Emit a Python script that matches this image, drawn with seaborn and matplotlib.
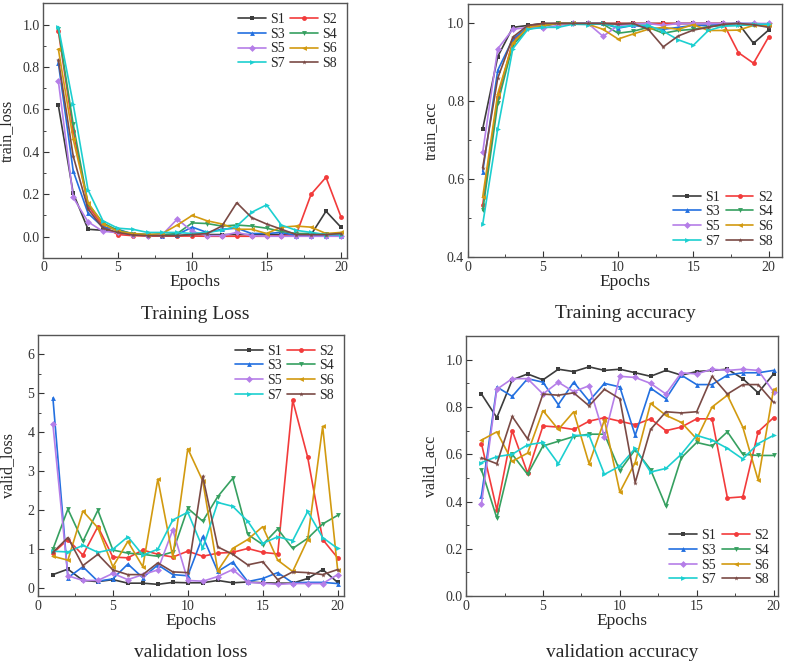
import pandas as pd
import numpy as np
import matplotlib
matplotlib.use('Agg')
import matplotlib.pyplot as plt
import seaborn as sns
from matplotlib.ticker import MultipleLocator, FormatStrFormatter

epochs = list(range(1, 21))
series = ['S1', 'S2', 'S3', 'S4', 'S5', 'S6', 'S7', 'S8']

# train loss per series
train_loss = {
    'S1': [0.62, 0.205, 0.035, 0.03, 0.02, 0.01, 0.005, 0.005, 0.005, 0.01, 0.01, 0.01, 0.01, 0.01, 0.01, 0.01, 0.01, 0.01, 0.12, 0.045],
    'S2': [0.97, 0.50, 0.145, 0.05, 0.01, 0.005, 0.003, 0.003, 0.003, 0.003, 0.002, 0.002, 0.002, 0.002, 0.002, 0.005, 0.01, 0.20, 0.28, 0.095],
    'S3': [0.82, 0.31, 0.11, 0.045, 0.035, 0.012, 0.01, 0.005, 0.01, 0.045, 0.02, 0.035, 0.04, 0.015, 0.015, 0.02, 0.005, 0.005, 0.005, 0.005],
    'S4': [0.98, 0.53, 0.155, 0.065, 0.03, 0.015, 0.01, 0.01, 0.015, 0.065, 0.062, 0.05, 0.055, 0.05, 0.04, 0.025, 0.015, 0.015, 0.012, 0.015],
    'S5': [0.735, 0.185, 0.07, 0.025, 0.02, 0.01, 0.005, 0.01, 0.083, 0.025, 0.005, 0.005, 0.02, 0.005, 0.002, 0.002, 0.002, 0.002, 0.002, 0.002],
    'S6': [0.885, 0.46, 0.16, 0.06, 0.025, 0.015, 0.01, 0.015, 0.055, 0.10, 0.075, 0.06, 0.035, 0.035, 0.015, 0.045, 0.05, 0.045, 0.015, 0.02],
    'S7': [0.99, 0.625, 0.22, 0.075, 0.04, 0.035, 0.02, 0.02, 0.02, 0.015, 0.02, 0.03, 0.05, 0.115, 0.15, 0.055, 0.03, 0.02, 0.01, 0.01],
    'S8': [0.835, 0.38, 0.13, 0.04, 0.02, 0.008, 0.005, 0.005, 0.005, 0.01, 0.015, 0.05, 0.16, 0.09, 0.06, 0.035, 0.01, 0.01, 0.01, 0.015],
}

train_acc = {
    'S1': [0.73, 0.915, 0.99, 0.995, 1.0, 1.0, 1.0, 1.0, 1.0, 1.0, 1.0, 1.0, 1.0, 1.0, 1.0, 1.0, 1.0, 1.0, 0.949, 0.983],
    'S2': [0.535, 0.81, 0.955, 0.99, 0.998, 1.0, 1.0, 1.0, 1.0, 1.0, 1.0, 1.0, 1.0, 1.0, 1.0, 1.0, 1.0, 0.925, 0.898, 0.965],
    'S3': [0.62, 0.88, 0.96, 0.99, 0.995, 1.0, 1.0, 1.0, 1.0, 0.988, 0.995, 0.99, 0.985, 0.99, 0.995, 0.995, 0.998, 1.0, 1.0, 0.998],
    'S4': [0.52, 0.795, 0.945, 0.985, 0.993, 1.0, 1.0, 1.0, 0.998, 0.975, 0.98, 0.99, 0.975, 0.982, 0.985, 0.992, 0.995, 0.995, 0.997, 0.993],
    'S5': [0.67, 0.935, 0.985, 0.99, 0.988, 0.995, 1.0, 1.0, 0.967, 0.995, 0.998, 1.0, 0.995, 1.0, 1.0, 1.0, 1.0, 1.0, 1.0, 1.0],
    'S6': [0.555, 0.82, 0.95, 0.99, 0.995, 1.0, 1.0, 0.998, 0.985, 0.96, 0.973, 0.985, 0.99, 0.985, 0.997, 0.982, 0.982, 0.983, 0.995, 0.995],
    'S7': [0.485, 0.73, 0.935, 0.985, 0.99, 0.99, 0.998, 0.997, 1.0, 0.99, 0.995, 0.995, 0.98, 0.958, 0.944, 0.982, 0.993, 0.995, 0.998, 0.998],
    'S8': [0.63, 0.86, 0.965, 0.995, 1.0, 1.0, 1.0, 1.0, 1.0, 0.998, 1.0, 0.985, 0.94, 0.968, 0.983, 0.99, 0.998, 1.0, 0.997, 0.99],
}

valid_loss = {
    'S1': [0.35, 0.49, 0.20, 0.17, 0.22, 0.13, 0.13, 0.10, 0.15, 0.14, 0.14, 0.20, 0.14, 0.16, 0.14, 0.13, 0.13, 0.25, 0.48, 0.15],
    'S2': [0.90, 1.25, 0.85, 1.58, 0.80, 0.78, 0.98, 0.87, 0.80, 0.95, 0.82, 0.90, 0.92, 1.02, 0.92, 0.88, 4.82, 3.36, 1.25, 0.78],
    'S3': [4.88, 0.27, 0.55, 0.18, 0.24, 0.62, 0.27, 0.60, 0.35, 0.32, 1.33, 0.43, 0.67, 0.17, 0.25, 0.40, 0.14, 0.15, 0.15, 0.12],
    'S4': [1.00, 2.03, 1.20, 2.00, 0.98, 0.90, 0.87, 0.82, 0.93, 2.05, 1.72, 2.35, 2.82, 1.38, 1.12, 1.52, 1.02, 1.28, 1.65, 1.87],
    'S5': [4.20, 0.32, 0.20, 0.20, 0.38, 0.22, 0.35, 0.47, 1.50, 0.20, 0.18, 0.30, 0.48, 0.15, 0.13, 0.10, 0.12, 0.12, 0.12, 0.35],
    'S6': [0.82, 0.72, 1.98, 1.55, 0.55, 1.20, 0.55, 2.80, 0.80, 3.58, 2.75, 0.45, 1.02, 1.25, 1.58, 0.72, 0.43, 1.25, 4.15, 0.47],
    'S7': [0.95, 0.93, 1.10, 0.92, 1.00, 1.32, 0.85, 1.00, 1.75, 1.95, 1.03, 2.20, 2.10, 1.72, 1.15, 1.32, 1.22, 1.97, 1.30, 1.02],
    'S8': [0.92, 1.30, 0.58, 0.87, 0.47, 0.35, 0.35, 0.65, 0.42, 0.40, 2.87, 1.06, 0.87, 0.60, 0.68, 0.22, 0.42, 0.40, 0.35, 0.48],
}

valid_acc = {
    'S1': [0.855, 0.755, 0.915, 0.94, 0.915, 0.96, 0.95, 0.97, 0.955, 0.96, 0.945, 0.93, 0.955, 0.935, 0.95, 0.955, 0.96, 0.92, 0.86, 0.94],
    'S2': [0.645, 0.365, 0.70, 0.52, 0.72, 0.715, 0.705, 0.74, 0.755, 0.74, 0.725, 0.75, 0.70, 0.715, 0.75, 0.75, 0.415, 0.42, 0.695, 0.755],
    'S3': [0.425, 0.885, 0.845, 0.92, 0.905, 0.81, 0.905, 0.825, 0.90, 0.885, 0.68, 0.88, 0.835, 0.935, 0.895, 0.895, 0.935, 0.945, 0.945, 0.955],
    'S4': [0.535, 0.33, 0.60, 0.515, 0.635, 0.655, 0.675, 0.685, 0.685, 0.53, 0.62, 0.535, 0.38, 0.585, 0.65, 0.635, 0.695, 0.60, 0.595, 0.595],
    'S5': [0.39, 0.875, 0.92, 0.92, 0.855, 0.905, 0.865, 0.89, 0.675, 0.93, 0.925, 0.90, 0.855, 0.945, 0.94, 0.96, 0.955, 0.96, 0.955, 0.865],
    'S6': [0.66, 0.695, 0.57, 0.605, 0.785, 0.705, 0.78, 0.56, 0.745, 0.44, 0.565, 0.815, 0.765, 0.735, 0.665, 0.80, 0.85, 0.715, 0.49, 0.875],
    'S7': [0.565, 0.59, 0.60, 0.64, 0.65, 0.56, 0.68, 0.68, 0.515, 0.55, 0.625, 0.525, 0.54, 0.60, 0.68, 0.66, 0.625, 0.58, 0.645, 0.68],
    'S8': [0.585, 0.56, 0.76, 0.665, 0.855, 0.85, 0.86, 0.805, 0.875, 0.835, 0.48, 0.705, 0.78, 0.775, 0.78, 0.93, 0.855, 0.895, 0.895, 0.82],
}

colors = ['#3c3c3c', '#f23b3b', '#2370e0', '#36a060', '#b57ee8', '#d29a10', '#1ccfd0', '#7a4a45']
markers = ['s', 'o', '^', 'v', 'D', '<', '>', '*']
palette = dict(zip(series, colors))
marker_map = dict(zip(series, markers))


def to_long(d):
    rows = []
    for s in series:
        for e, v in zip(epochs, d[s]):
            rows.append({'Epochs': e, 'value': v, 'Series': s})
    return pd.DataFrame(rows)


sns.set_style('ticks')
plt.rcParams['font.family'] = ['Liberation Serif', 'DejaVu Serif']
plt.rcParams['xtick.direction'] = 'in'
plt.rcParams['ytick.direction'] = 'in'

fig = plt.figure(figsize=(7.9, 6.63), dpi=100)
axes_pos = [
    [0.055, 0.611, 0.384, 0.384],
    [0.592, 0.612, 0.398, 0.382],
    [0.048, 0.101, 0.387, 0.394],
    [0.590, 0.101, 0.395, 0.392],
]
# y-label centre in axes coords
label_x = [-0.095, -0.09, -0.07, -0.09]

panels = [
    (train_loss, 'train_loss', (-0.1, 1.1), 0.2, 'upper right', 'Training Loss', (0, 20.4)),
    (train_acc, 'train_acc', (0.4, 1.05), 0.2, 'lower right', 'Training accuracy', (0, 20.9)),
    (valid_loss, 'valid_loss', (-0.2, 6.5), 1, 'upper right', 'validation loss', (0, 20.4)),
    (valid_acc, 'valid_acc', (0, 1.1), 0.2, 'lower right', 'validation accuracy', (0, 20.3)),
]

# legend order so matplotlib's column fill reads S1 S2 / S3 S4 / ...
leg_order = ['S1', 'S3', 'S5', 'S7', 'S2', 'S4', 'S6', 'S8']

for pos, lx, (data, ylab, ylim, ystep, loc, title, xlim) in zip(axes_pos, label_x, panels):
    ax = fig.add_axes(pos)
    df = to_long(data)
    sns.lineplot(data=df, x='Epochs', y='value', hue='Series', style='Series',
                 palette=palette, markers=marker_map, dashes=False,
                 markersize=3.5, markeredgewidth=0, linewidth=1.2, ax=ax)
    ax.set_xlim(*xlim)
    ax.set_ylim(*ylim)
    ax.xaxis.set_major_locator(MultipleLocator(5))
    ax.xaxis.set_minor_locator(MultipleLocator(2.5))
    ax.yaxis.set_major_locator(MultipleLocator(ystep))
    ax.yaxis.set_minor_locator(MultipleLocator(ystep / 2))
    if ystep < 1:
        ax.yaxis.set_major_formatter(FormatStrFormatter('%.1f'))
    ax.tick_params(which='major', length=4, labelsize=10, pad=2.5, colors='#333333')
    ax.tick_params(which='minor', length=2)
    ax.set_xlabel('Epochs', fontsize=12.5, labelpad=0)
    ax.set_ylabel(ylab, fontsize=11.5)
    ax.yaxis.set_label_coords(lx, 0.5)
    for sp in ax.spines.values():
        sp.set_color('#555555')
        sp.set_linewidth(1.0)
    handles, labels = ax.get_legend_handles_labels()
    hmap = dict(zip(labels, handles))
    ax.legend([hmap[s] for s in leg_order], leg_order, title=None, loc=loc,
              ncol=2, frameon=False, fontsize=10, handlelength=2.0,
              columnspacing=0.4, handletextpad=0.3, labelspacing=0.12,
              borderaxespad=0.3)
    cx = pos[0] + pos[2] / 2
    fig.text(cx, pos[1] - 0.085, title, ha='center', va='center', fontsize=14)

fig.savefig('out.png', dpi=100)
